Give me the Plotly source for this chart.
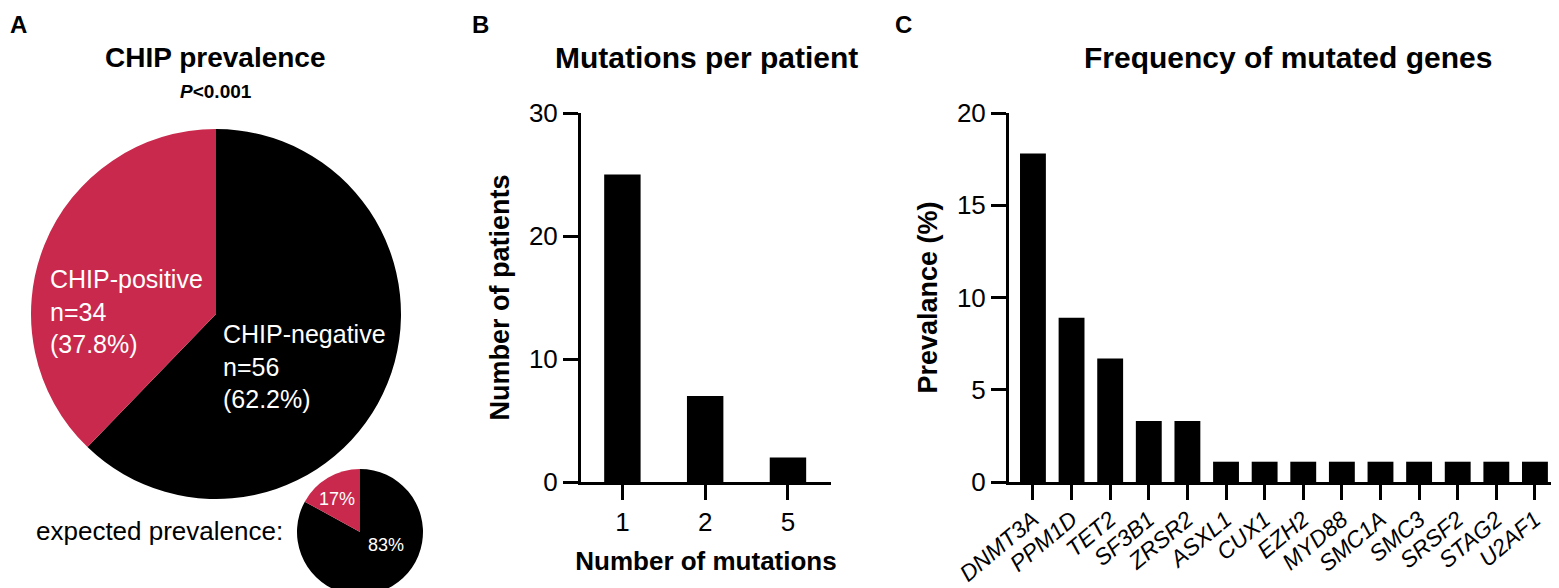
import plotly.graph_objects as go

W, H = 1559, 588
FONT = "Liberation Sans, Arial, sans-serif"
RED = "#C9294C"

# panel A: observed and expected CHIP prevalence (negative first, drawn clockwise from 12 o'clock)
chip_labels = ["CHIP-negative", "CHIP-positive"]
chip_counts = [56, 34]
expected_labels = ["CHIP-negative", "CHIP-positive"]
expected_pct = [83, 17]

# panel B: mutations per patient
mutation_counts = ["1", "2", "5"]
patients = [25, 7, 2]

# panel C: frequency of mutated genes
genes = ["DNMT3A", "PPM1D", "TET2", "SF3B1", "ZRSR2", "ASXL1", "CUX1",
         "EZH2", "MYD88", "SMC1A", "SMC3", "SRSF2", "STAG2", "U2AF1"]
prevalence = [17.8, 8.9, 6.7, 3.3, 3.3, 1.1, 1.1,
              1.1, 1.1, 1.1, 1.1, 1.1, 1.1, 1.1]


def px(x):
    return x / W


def py(y):
    return 1 - y / H


fig = go.Figure()

# big pie
fig.add_trace(go.Pie(
    labels=chip_labels, values=chip_counts, sort=False,
    direction="clockwise", rotation=0,
    marker=dict(colors=["black", RED], line=dict(width=0)),
    textinfo="none", hoverinfo="label+value+percent",
    domain=dict(x=[px(23), px(393)], y=[py(491), py(121)]),
    showlegend=False,
))

# small pie
fig.add_trace(go.Pie(
    labels=expected_labels, values=expected_pct, sort=False,
    direction="clockwise", rotation=0,
    marker=dict(colors=["black", RED], line=dict(width=0)),
    textinfo="none", hoverinfo="label+percent",
    domain=dict(x=[px(289), px(415)], y=[py(587), py(461)]),
    showlegend=False,
))

# panel B bars
fig.add_trace(go.Bar(
    x=mutation_counts, y=patients, width=0.44,
    marker=dict(color="black", line=dict(width=0)),
    xaxis="x", yaxis="y", showlegend=False,
))

# panel C bars
fig.add_trace(go.Bar(
    x=genes, y=prevalence, width=0.67,
    marker=dict(color="black", line=dict(width=0)),
    xaxis="x2", yaxis="y2", showlegend=False,
))

axis_common = dict(
    showline=True, linewidth=3, linecolor="black",
    ticks="outside", ticklen=15, tickwidth=3, tickcolor="black",
    showgrid=False, zeroline=False, automargin=False,
)

fig.update_layout(
    width=W, height=H,
    margin=dict(l=0, r=0, t=0, b=0, autoexpand=False),
    paper_bgcolor="white", plot_bgcolor="white",
    font=dict(family=FONT, color="black", size=26),
    xaxis=dict(
        axis_common, domain=[px(573), px(823)], anchor="y",
        type="category", range=[-0.5, 2.52],
        tickfont=dict(size=26),
        title=dict(text="<b>Number of mutations</b>", font=dict(size=26), standoff=16),
    ),
    yaxis=dict(
        axis_common, domain=[py(474), py(105)], anchor="x",
        range=[0, 30], tickvals=[0, 10, 20, 30],
        tickfont=dict(size=26),
        title=dict(text="<b>Number of patients</b>", font=dict(size=27), standoff=12),
    ),
    xaxis2=dict(
        axis_common, domain=[px(1001), 1.0], anchor="y2",
        type="category", range=[-0.62, 13.83], tickangle=-40,
        tickfont=dict(size=23, style="italic"), ticklabelstandoff=-3,
    ),
    yaxis2=dict(
        axis_common, domain=[py(474), py(105)], anchor="x2",
        range=[0, 20], tickvals=[0, 5, 10, 15, 20],
        tickfont=dict(size=26),
        title=dict(text="<b>Prevalance (%)</b>", font=dict(size=27), standoff=12),
    ),
)

annotations = []

# panel letters
for letter, x in [("A", 0), ("B", 462), ("C", 885)]:
    annotations.append(dict(
        text=f"<b>{letter}</b>", x=px(x), y=py(16), xref="paper", yref="paper",
        xanchor="left", yanchor="middle", showarrow=False, font=dict(size=24),
    ))

# panel titles
for title, x, size in [("CHIP prevalence", 208, 28),
                       ("Mutations per patient", 698, 30),
                       ("Frequency of mutated genes", 1280, 30)]:
    annotations.append(dict(
        text=f"<b>{title}</b>", x=px(x), y=py(50), xref="paper", yref="paper",
        xanchor="center", yanchor="middle", showarrow=False, font=dict(size=size),
    ))

annotations.append(dict(
    text="<b><i>P</i>&lt;0.001</b>", x=px(208), y=py(83), xref="paper", yref="paper",
    xanchor="center", yanchor="middle", showarrow=False, font=dict(size=19),
))

# labels inside big pie
total = sum(chip_counts)
for label, n, x, y in zip(chip_labels, chip_counts, [213, 40], [358, 303]):
    annotations.append(dict(
        text=f"{label}<br>n={n}<br>({100 * n / total:.1f}%)",
        x=px(x), y=py(y), xref="paper", yref="paper",
        xanchor="left", yanchor="middle", align="left", showarrow=False,
        font=dict(size=25, color="white"),
    ))

# expected prevalence
annotations.append(dict(
    text="expected prevalence:", x=px(26), y=py(523), xref="paper", yref="paper",
    xanchor="left", yanchor="middle", showarrow=False, font=dict(size=26),
))
for pct, x, y in zip(expected_pct, [378, 329], [537, 491]):
    annotations.append(dict(
        text=f"{pct}%", x=px(x), y=py(y), xref="paper", yref="paper",
        xanchor="center", yanchor="middle", showarrow=False,
        font=dict(size=18, color="white"),
    ))

fig.update_layout(annotations=annotations)

fig.write_html("out.html")
